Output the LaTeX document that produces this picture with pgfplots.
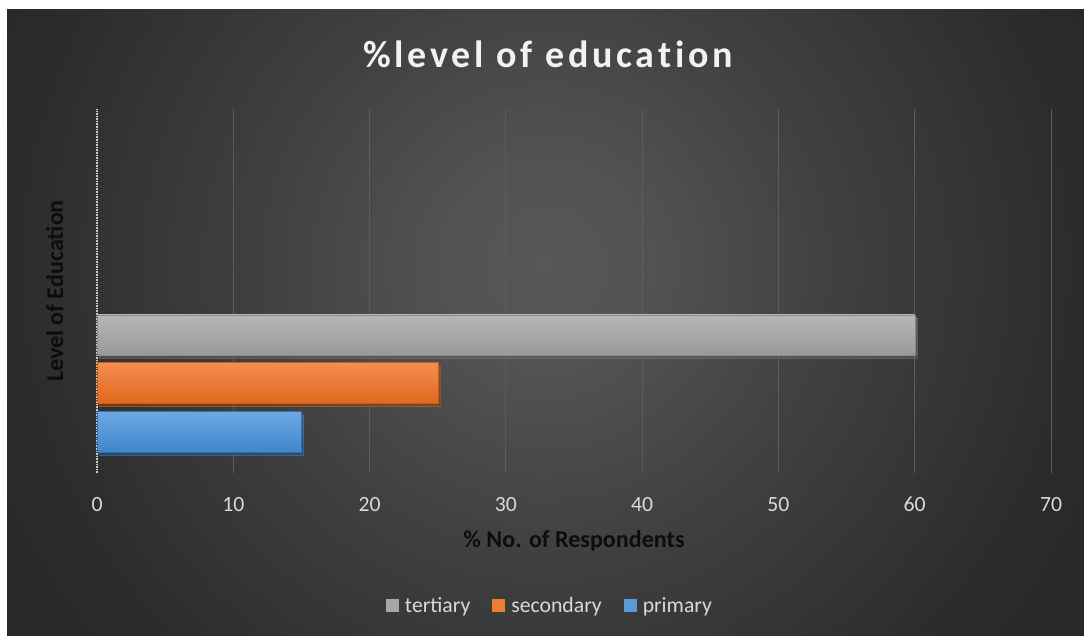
\documentclass[border=0pt]{standalone}
\usepackage{pgfplots}
\pgfplotsset{compat=1.18}
\usepackage{fontspec}
\setmainfont{Carlito}
\newfontfamily\titlefont[LetterSpace=10, Ligatures={NoCommon,NoRequired,NoContextual}]{Carlito}
\usetikzlibrary{shadows}
\definecolor{bga}{HTML}{575757}
\definecolor{bgb}{HTML}{535353}
\definecolor{bgc}{HTML}{404040}
\definecolor{bgd}{HTML}{2B2B2B}
\definecolor{bge}{HTML}{292929}
\pgfdeclareradialshading{bgshade}{\pgfpoint{0bp}{0bp}}{color(0bp)=(bga); color(4bp)=(bgb); color(12bp)=(bgc); color(22.5bp)=(bgd); color(25bp)=(bge); color(50bp)=(bge)}
\definecolor{gridc}{HTML}{5C5C5C}
\definecolor{zeroc}{HTML}{C8C8C8}
\definecolor{tickc}{HTML}{D9D9D9}
\definecolor{titlec}{HTML}{F2F2F2}
\definecolor{labc}{HTML}{0D0D0D}
\definecolor{tertt}{HTML}{B7B7B7}
\definecolor{tertb}{HTML}{999999}
\definecolor{tertd}{HTML}{8C8C8C}
\definecolor{sect}{HTML}{F38D52}
\definecolor{secb}{HTML}{E3681A}
\definecolor{secd}{HTML}{C8601A}
\definecolor{primt}{HTML}{6DA9E2}
\definecolor{primb}{HTML}{3F86CC}
\definecolor{primd}{HTML}{3470B0}
\definecolor{tertl}{HTML}{A6A6A6}
\definecolor{secl}{HTML}{ED7D31}
\definecolor{priml}{HTML}{5B9BD5}
\begin{document}
\begin{tikzpicture}
\fill[white] (0,0) rectangle (1084bp,636bp);
\begin{scope}
\clip (7bp,0) rectangle (1084bp,626bp);
\shade[shading=bgshade] (-55bp,-230bp) rectangle (1145bp,970bp);
\end{scope}
\begin{axis}[
  at={(97bp,163bp)}, anchor=south west,
  scale only axis, width=954bp, height=364bp,
  xmin=0, xmax=70, ymin=0, ymax=364,
  xtick={0,10,...,70}, ytick=\empty,
  axis line style={draw=none},
  major tick length=0pt,
  xmajorgrids, grid style={color=gridc, line width=0.8bp},
  extra x ticks={0}, extra x tick labels={},
  extra x tick style={grid style={color=zeroc, line width=1.6bp, densely dotted}},
  /pgf/number format/assume math mode=true,
  xticklabel style={font=\fontsize{21.7bp}{26bp}\selectfont, text=tickc, anchor=base, yshift=-38bp},
  xlabel={\% No. of Respondents},
  xlabel style={font=\bfseries\fontsize{24.1bp}{29bp}\selectfont, text=labc, at={(axis description cs:0.5,0)}, anchor=base, yshift=-74bp},
  ylabel={Level of Education},
  ylabel style={font=\bfseries\fontsize{24.1bp}{29bp}\selectfont, text=labc, at={(axis description cs:-0.0356,0.5)}, anchor=base},
  title={\%level of education},
  title style={font=\titlefont\bfseries\fontsize{38bp}{44bp}\selectfont, text=titlec, at={(axis description cs:0.4727,1)}, anchor=base, yshift=36bp},
  legend style={at={(axis description cs:0.4748,-0.365)}, anchor=center, draw=none, fill=none,
    legend columns=3, font=\fontsize{21.7bp}{26bp}\selectfont, text=tickc,
    nodes={inner sep=2bp},
    /tikz/every even column/.append style={column sep=20bp}},
  legend cell align=left,
]
\addplot[xbar, bar width=40, bar shift=0pt, draw=tertd, line width=0.4bp, top color=tertt, bottom color=tertb,
  drop shadow={shadow xshift=2bp, shadow yshift=-3bp, fill=black, opacity=0.4},
  legend image code/.code={\pgfpathrectangle{\pgfpoint{0bp}{-6.5bp}}{\pgfpoint{13bp}{13bp}}\pgfsetfillcolor{tertl}\pgfusepath{fill}\pgfpathrectangle{\pgfpoint{0bp}{-6.5bp}}{\pgfpoint{17bp}{13bp}}\pgfusepath{}}]
  coordinates {(60,138)};
\addplot[xbar, bar width=41, bar shift=0pt, draw=secd, line width=0.4bp, top color=sect, bottom color=secb,
  drop shadow={shadow xshift=2bp, shadow yshift=-3bp, fill=black, opacity=0.4},
  legend image code/.code={\pgfpathrectangle{\pgfpoint{0bp}{-6.5bp}}{\pgfpoint{13bp}{13bp}}\pgfsetfillcolor{secl}\pgfusepath{fill}\pgfpathrectangle{\pgfpoint{0bp}{-6.5bp}}{\pgfpoint{17bp}{13bp}}\pgfusepath{}}]
  coordinates {(25,90)};
\addplot[xbar, bar width=41, bar shift=0pt, draw=primd, line width=0.4bp, top color=primt, bottom color=primb,
  drop shadow={shadow xshift=2bp, shadow yshift=-3bp, fill=black, opacity=0.4},
  legend image code/.code={\pgfpathrectangle{\pgfpoint{0bp}{-6.5bp}}{\pgfpoint{13bp}{13bp}}\pgfsetfillcolor{priml}\pgfusepath{fill}\pgfpathrectangle{\pgfpoint{0bp}{-6.5bp}}{\pgfpoint{17bp}{13bp}}\pgfusepath{}}]
  coordinates {(15,41)};
\legend{tertiary, secondary, primary}
\end{axis}
\end{tikzpicture}
\end{document}
